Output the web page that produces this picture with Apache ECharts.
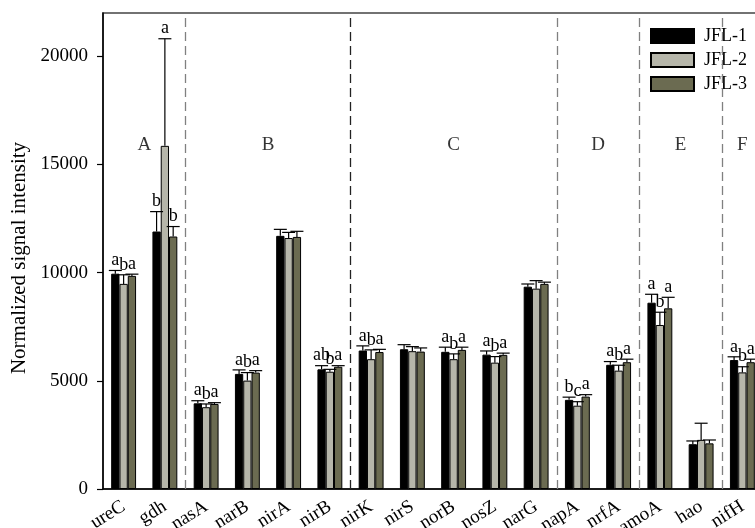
<!DOCTYPE html>
<html>
<head>
<meta charset="utf-8">
<script src="https://cdn.jsdelivr.net/npm/echarts@6/dist/echarts.min.js"></script>
<style>
  html, body { margin: 0; padding: 0; background: #fff; }
  #chart { width: 755px; height: 528px; }
</style>
</head>
<body>
<div id="chart"></div>
<script>
// Nitrogen-cycle functional genes
const genes = ['ureC', 'gdh', 'nasA', 'narB', 'nirA', 'nirB', 'nirK', 'nirS', 'norB', 'nosZ', 'narG', 'napA', 'nrfA', 'amoA', 'hao', 'nifH'];
const seriesNames = ['JFL-1', 'JFL-2', 'JFL-3'];

// Mean normalized signal intensity per gene
const jfl1Mean = [9950, 11900, 3960, 5320, 11700, 5530, 6400, 6460, 6340, 6210, 9350, 4120, 5740, 8610, 2070, 5960];
const jfl2Mean = [9480, 15860, 3780, 5010, 11600, 5420, 6000, 6370, 6000, 5840, 9260, 3850, 5470, 7580, 2270, 5390];
const jfl3Mean = [9850, 11670, 3930, 5380, 11650, 5650, 6330, 6350, 6430, 6200, 9480, 4270, 5860, 8350, 2110, 5860];

// Standard deviations (upper error bars)
const jfl1Err = [150, 920, 120, 185, 300, 170, 215, 210, 215, 170, 125, 125, 150, 390, 150, 150];
const jfl2Err = [420, 4950, 150, 370, 260, 110, 430, 210, 245, 280, 370, 185, 250, 590, 770, 260];
const jfl3Err = [80, 460, 60, 90, 260, 50, 125, 170, 125, 80, 80, 90, 140, 510, 155, 140];

// Significance letters
const jfl1Sig = ['a', 'b', 'a', 'a', '', 'ab', 'a', '', 'a', 'a', '', 'b', 'a', 'a', '', 'a'];
const jfl2Sig = ['b', 'a', 'b', 'b', '', 'b', 'b', '', 'b', 'b', '', 'c', 'b', 'b', '', 'b'];
const jfl3Sig = ['a', 'b', 'a', 'a', '', 'a', 'a', '', 'a', 'a', '', 'a', 'a', 'a', '', 'a'];

// Functional groups (gene index ranges)
const groupLetters = ['A', 'B', 'C', 'D', 'E', 'F'];
const groupStart = [0, 2, 6, 11, 13, 15];
const groupEnd = [2, 6, 11, 13, 15, 16];

const yTicks = [0, 5000, 10000, 15000, 20000];

const means = [jfl1Mean, jfl2Mean, jfl3Mean];
const errs = [jfl1Err, jfl2Err, jfl3Err];
const sigs = [jfl1Sig, jfl2Sig, jfl3Sig];
const colors = ['#000000', '#b6b6aa', '#6b6b51'];

const FONT = '"Liberation Serif", "Times New Roman", serif';
const BAR_W = 8.3;
const CAP_W = 13;
const GROUP_LABEL_Y = 15900;

const chart = echarts.init(document.getElementById('chart'), null, { renderer: 'canvas' });

function errorRenderer(k) {
  return function (params, api) {
    const i = api.value(0);
    const m = api.value(1);
    const e = api.value(2);
    const base = api.coord([i, m]);
    const top = api.coord([i, m + e]);
    const x = base[0] + (k - 1) * BAR_W;
    const half = CAP_W / 2;
    const stroke = { stroke: '#000', lineWidth: 1.2 };
    const children = [
      { type: 'line', shape: { x1: x, y1: base[1], x2: x, y2: top[1] }, style: stroke },
      { type: 'line', shape: { x1: x - half, y1: top[1], x2: x + half, y2: top[1] }, style: stroke }
    ];
    const sig = sigs[k][params.dataIndex];
    if (sig) {
      children.push({
        type: 'text', x: x, y: top[1] - 1,
        style: { text: sig, fill: '#000', font: '18px ' + FONT, align: 'center', verticalAlign: 'bottom' }
      });
    }
    return { type: 'group', children: children };
  };
}

const series = [];
seriesNames.forEach(function (name, k) {
  series.push({
    name: name,
    type: 'bar',
    xAxisIndex: 0,
    yAxisIndex: 0,
    barWidth: BAR_W,
    barGap: '0%',
    itemStyle: { color: colors[k], borderColor: '#000', borderWidth: 1 },
    data: means[k]
  });
});
seriesNames.forEach(function (name, k) {
  series.push({
    type: 'custom',
    xAxisIndex: 0,
    yAxisIndex: 0,
    z: 5,
    renderItem: errorRenderer(k),
    data: genes.map(function (g, i) { return [i, means[k][i], errs[k][i]]; })
  });
});

// Group letters and dashed separators on a hidden continuous x axis
const boundaries = groupStart.slice(1);
series.push({
  type: 'scatter',
  xAxisIndex: 1,
  yAxisIndex: 0,
  symbolSize: 0,
  silent: true,
  label: {
    show: true, position: 'inside', formatter: '{b}',
    color: '#000', fontFamily: FONT, fontSize: 19
  },
  data: groupLetters.map(function (L, j) {
    return { name: L, value: [(groupStart[j] + groupEnd[j]) / 2, GROUP_LABEL_Y] };
  }),
  markLine: {
    silent: true,
    symbol: ['none', 'none'],
    label: { show: false },
    lineStyle: { type: [9, 5], width: 1.3, color: '#808080' },
    data: boundaries.map(function (b) {
      return { xAxis: b, lineStyle: { color: b === 6 ? '#222222' : '#808080' } };
    })
  }
});

chart.setOption({
  animation: false,
  backgroundColor: '#fff',
  grid: {
    left: 103, top: 13, width: 660, height: 476,
    containLabel: false,
    outerBoundsMode: 'none',
    show: true, borderColor: '#444', borderWidth: 1.5, backgroundColor: 'transparent'
  },
  legend: {
    data: seriesNames,
    orient: 'vertical',
    left: 650, top: 27,
    padding: 0,
    itemWidth: 43, itemHeight: 14, itemGap: 6,
    icon: 'rect',
    textStyle: { fontFamily: FONT, fontSize: 18, color: '#000', padding: [0, 0, 0, 5] }
  },
  xAxis: [
    {
      type: 'category',
      data: genes,
      boundaryGap: true,
      axisLine: { lineStyle: { color: '#000', width: 1.5 } },
      axisTick: { alignWithLabel: true, length: 6, lineStyle: { color: '#000', width: 1.2 } },
      axisLabel: { interval: 0, rotate: 32, margin: 16, color: '#000', fontFamily: FONT, fontSize: 19 },
      splitLine: { show: false }
    },
    { type: 'value', min: 0, max: 16, show: false, gridIndex: 0 }
  ],
  yAxis: {
    type: 'value',
    min: 0, max: 22000,
    name: 'Normalized signal intensity',
    nameLocation: 'middle',
    nameGap: 66,
    nameTextStyle: { fontFamily: FONT, fontSize: 21, color: '#000', padding: [0, 14, 0, 0] },
    axisLine: { show: true, lineStyle: { color: '#000', width: 1.5 } },
    axisTick: { show: true, length: 6, customValues: yTicks, lineStyle: { color: '#000', width: 1.2 } },
    axisLabel: {
      customValues: yTicks, margin: 15, color: '#000', fontFamily: FONT, fontSize: 19,
      formatter: function (v) { return String(v); }
    },
    splitLine: { show: false }
  },
  series: series
});
</script>
</body>
</html>
